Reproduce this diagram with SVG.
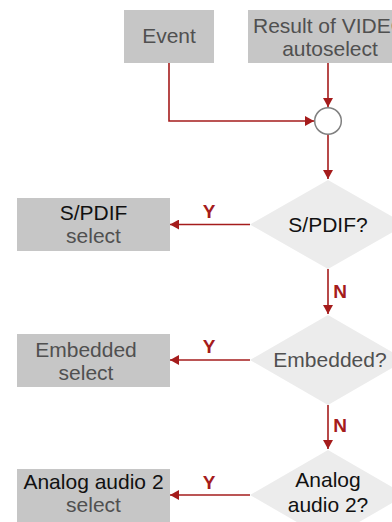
<svg xmlns="http://www.w3.org/2000/svg" width="392" height="522" viewBox="0 0 392 522">
<style>
.box{fill:#c6c6c6}
.dia{fill:#ececec}
.t{font-family:"Liberation Sans",Arial,sans-serif;font-size:21px;text-anchor:middle}
.dk{fill:#111}
.gr{fill:#505050}
.lbl{font-family:"Liberation Sans",Arial,sans-serif;font-size:19px;font-weight:bold;fill:#a51c1c}
.ln{stroke:#a51c1c;stroke-width:1.6;fill:none}
</style>
<defs>
<marker id="ah" markerUnits="userSpaceOnUse" markerWidth="9" markerHeight="10" refX="9" refY="5" orient="auto" viewBox="0 0 9 10">
<path d="M0,0 L9,5 L0,10 z" fill="#a51c1c"/>
</marker>
</defs>
<rect width="392" height="522" fill="#fff"/>
<g id="connectors">
<polyline class="ln" points="169,63 169,121 314,121" marker-end="url(#ah)"/>
<line class="ln" x1="328" y1="63" x2="328" y2="107" marker-end="url(#ah)"/>
<line class="ln" x1="328" y1="134" x2="328" y2="179" marker-end="url(#ah)"/>
<line class="ln" x1="250" y1="224.5" x2="170" y2="224.5" marker-end="url(#ah)"/>
<line class="ln" x1="328" y1="269" x2="328" y2="314" marker-end="url(#ah)"/>
<line class="ln" x1="250" y1="360" x2="170" y2="360" marker-end="url(#ah)"/>
<line class="ln" x1="328" y1="405" x2="328" y2="449" marker-end="url(#ah)"/>
<line class="ln" x1="250" y1="495" x2="170" y2="495" marker-end="url(#ah)"/>
<text class="lbl" x="209" y="218" text-anchor="middle">Y</text>
<text class="lbl" x="340" y="298" text-anchor="middle">N</text>
<text class="lbl" x="209" y="353" text-anchor="middle">Y</text>
<text class="lbl" x="340" y="432" text-anchor="middle">N</text>
<text class="lbl" x="209" y="489" text-anchor="middle">Y</text>
</g>
<g id="event">
<rect class="box" x="124" y="10" width="90" height="53"/>
<text class="t gr" x="169" y="43">Event</text>
</g>
<g id="video">
<rect class="box" x="248" y="10" width="164" height="53"/>
<text class="t gr" x="330" y="33">Result of VIDEO</text>
<text class="t gr" x="330" y="56">autoselect</text>
</g>
<g id="join">
<circle cx="328" cy="121" r="13.3" fill="#fff" stroke="#808080" stroke-width="1.5"/>
</g>
<g id="spdif-q">
<polygon class="dia" points="328,180 406,224.5 328,269 250,224.5"/>
<text class="t dk" x="328" y="232">S/PDIF?</text>
</g>
<g id="spdif-sel">
<rect class="box" x="17" y="198" width="153" height="53"/>
<text class="t dk" x="93.5" y="220">S/PDIF</text>
<text class="t gr" x="93.5" y="243">select</text>
</g>
<g id="emb-q">
<polygon class="dia" points="328,315 406,360 328,405 250,360"/>
<text class="t gr" x="330" y="367">Embedded?</text>
</g>
<g id="emb-sel">
<rect class="box" x="17" y="334" width="153" height="53"/>
<text class="t gr" x="86" y="357">Embedded</text>
<text class="t gr" x="86" y="380">select</text>
</g>
<g id="ana-q">
<polygon class="dia" points="328,450 406,495 328,540 250,495"/>
<text class="t dk" x="328" y="487">Analog</text>
<text class="t dk" x="328" y="512">audio 2?</text>
</g>
<g id="ana-sel">
<rect class="box" x="17" y="469" width="153" height="53"/>
<text class="t dk" x="93.5" y="489">Analog audio 2</text>
<text class="t gr" x="93.5" y="512">select</text>
</g>
</svg>
